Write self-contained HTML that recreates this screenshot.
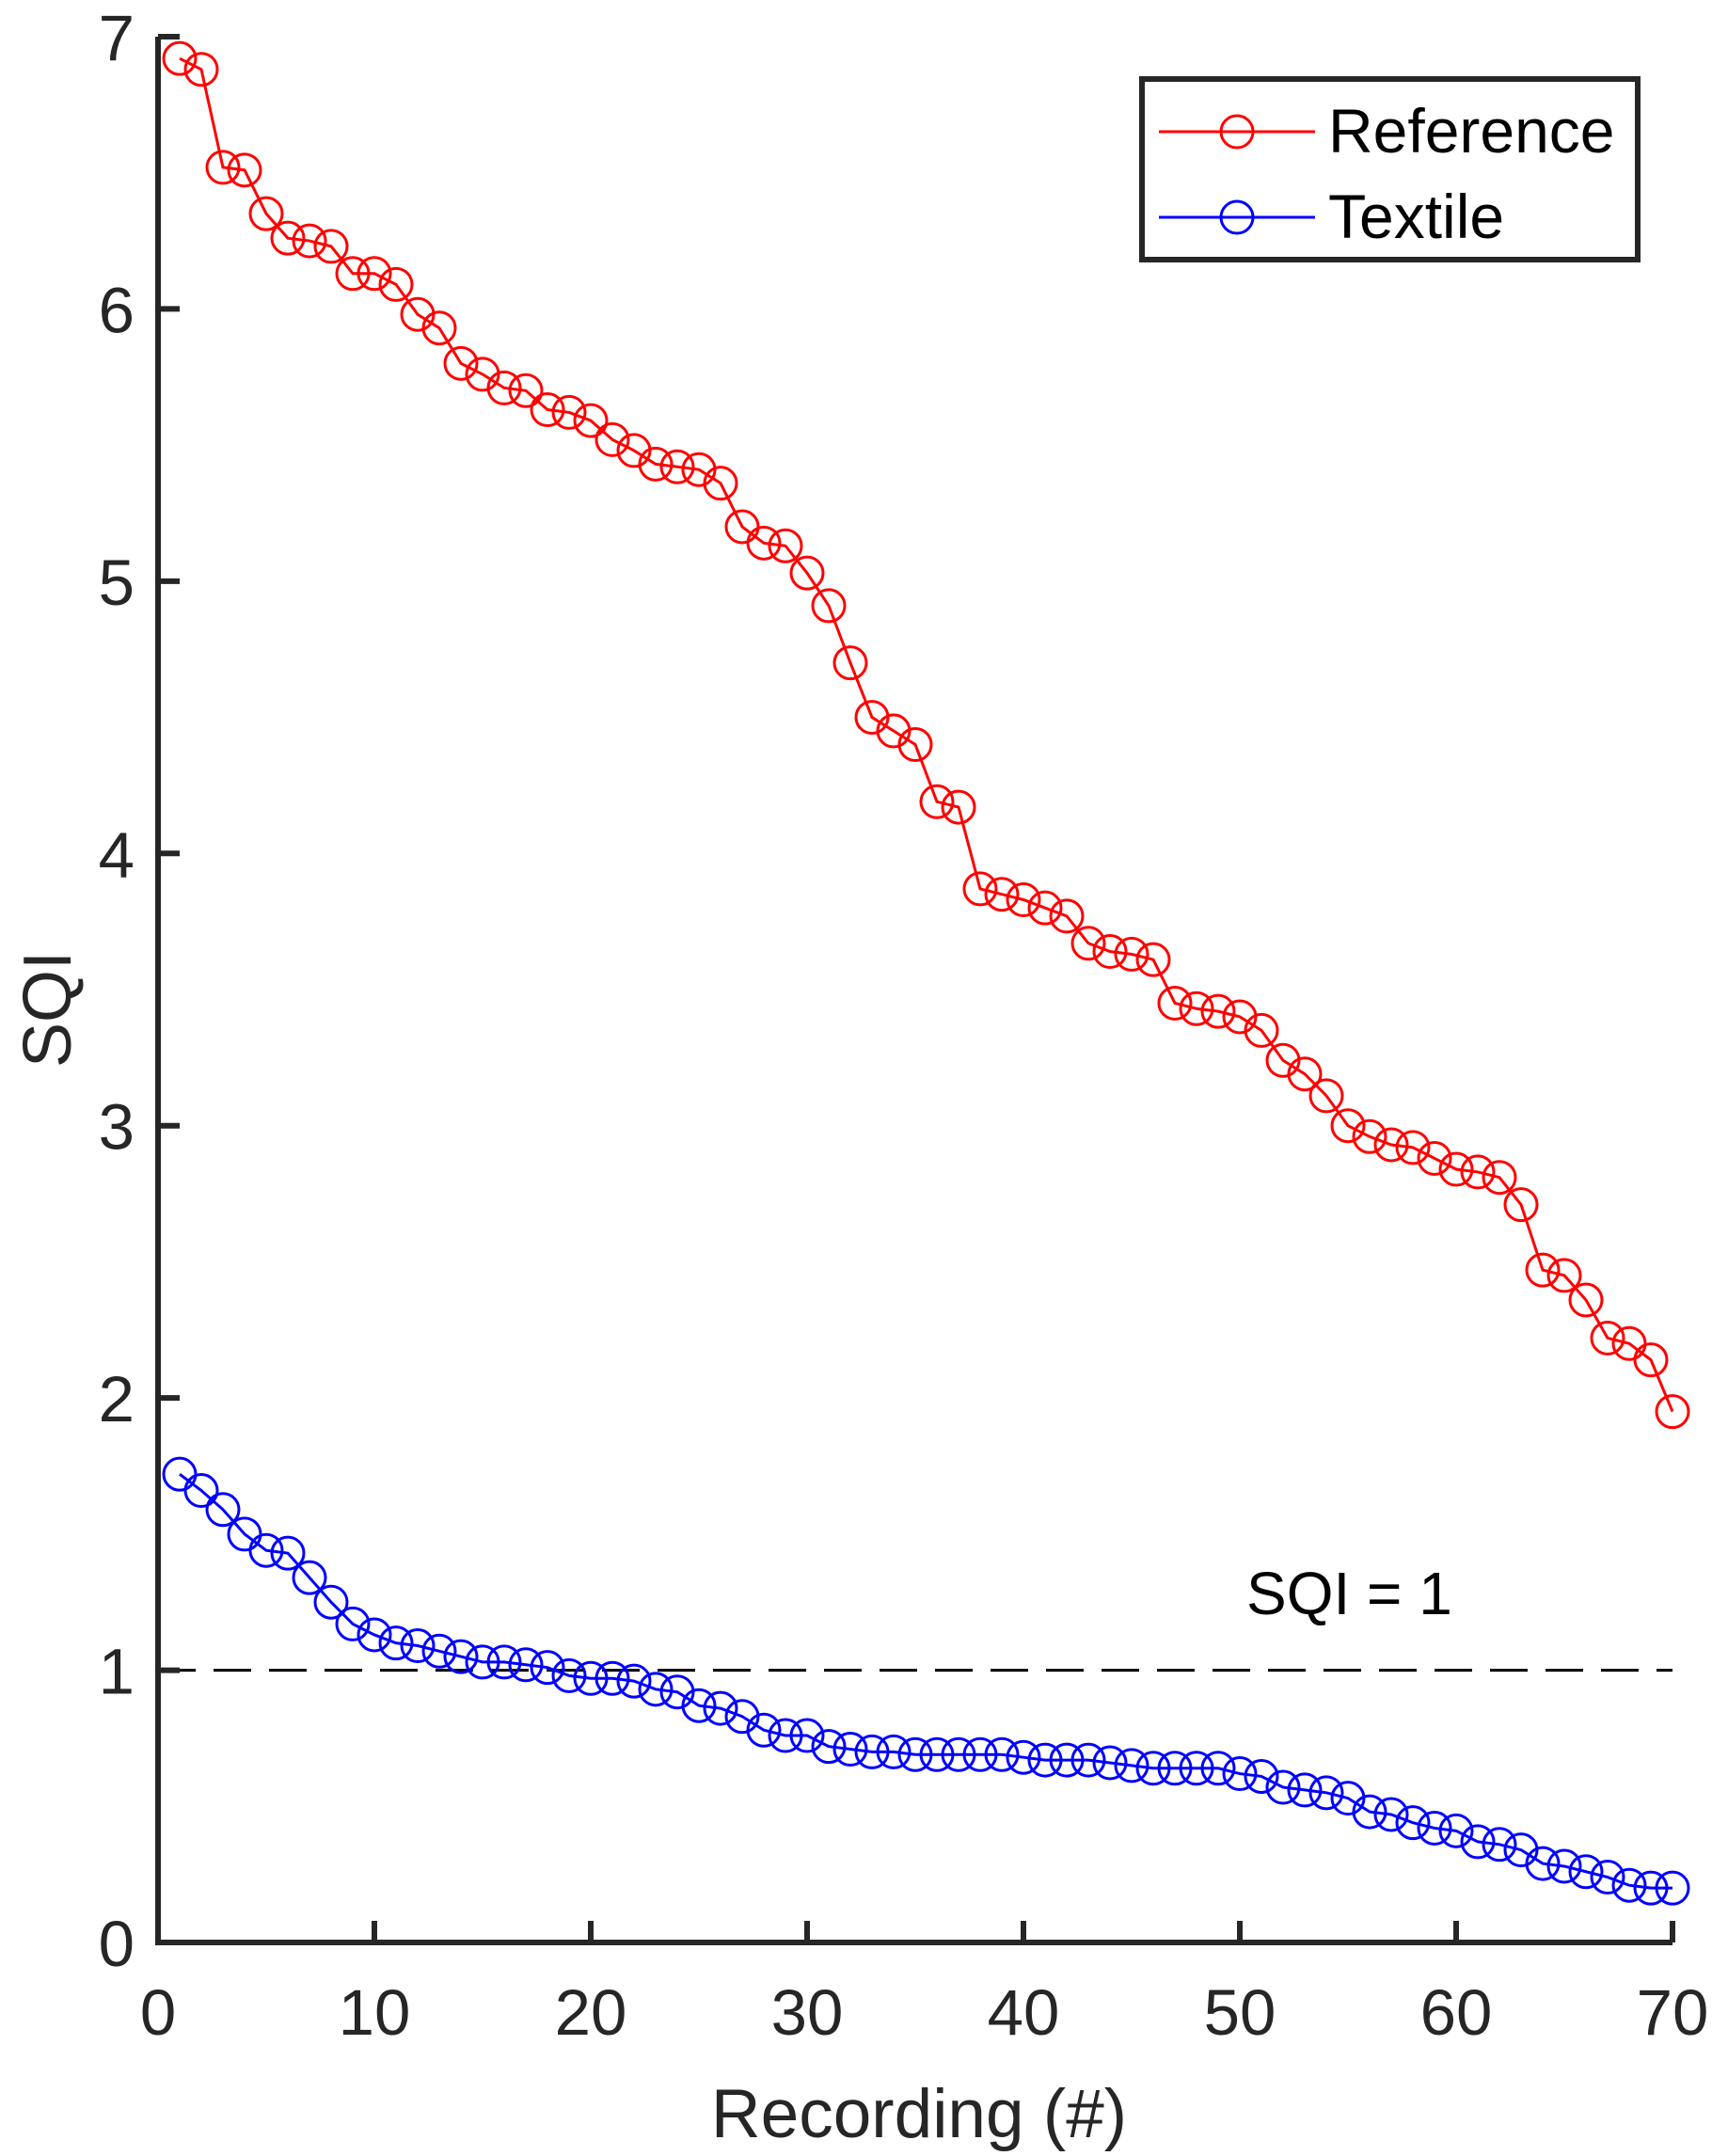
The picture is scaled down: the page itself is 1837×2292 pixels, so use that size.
<!DOCTYPE html>
<html><head><meta charset="utf-8"><style>
html,body{margin:0;padding:0;background:#fff}
svg{display:block;font-family:"Liberation Sans",Arial,sans-serif}
</style></head><body>
<svg id="chart" width="1837" height="2292" viewBox="0 0 1837 2292">
<g id="plot"></g>
<g id="axes"></g>
<text x="56" y="1073" font-size="72" fill="#262626" text-anchor="middle" transform="rotate(-90 56 1073)" dominant-baseline="middle">SQI</text>
<text x="977" y="2272" font-size="73" fill="#262626" text-anchor="middle">Recording (#)</text>
<text x="1325" y="1716" font-size="64" fill="#000">SQI = 1</text>
<g>
<rect x="1214" y="84" width="527" height="192" fill="#fff" stroke="#262626" stroke-width="6"/>
<g>
<line x1="1232" y1="140" x2="1398" y2="140" stroke="#f00" stroke-width="3"/>
<circle cx="1315" cy="140" r="17" fill="none" stroke="#f00" stroke-width="3"/>
<text x="1412" y="162" font-size="66" fill="#000">Reference</text>
</g>
<g>
<line x1="1232" y1="231" x2="1398" y2="231" stroke="#00f" stroke-width="3"/>
<circle cx="1315" cy="231" r="17" fill="none" stroke="#00f" stroke-width="3"/>
<text x="1412" y="253" font-size="66" fill="#000">Textile</text>
</g>
</g>
</svg>
<script>
const referenceValues=[6.92,6.88,6.52,6.51,6.35,6.26,6.25,6.23,6.13,6.13,6.09,5.98,5.93,5.80,5.76,5.71,5.70,5.63,5.62,5.59,5.52,5.48,5.43,5.42,5.41,5.36,5.20,5.14,5.13,5.03,4.91,4.70,4.50,4.45,4.40,4.19,4.17,3.87,3.85,3.83,3.80,3.77,3.67,3.64,3.63,3.61,3.45,3.43,3.42,3.40,3.35,3.24,3.19,3.11,3.00,2.96,2.93,2.92,2.88,2.84,2.83,2.81,2.71,2.47,2.45,2.36,2.22,2.20,2.14,1.95];
const textileValues=[1.72,1.66,1.59,1.50,1.44,1.43,1.34,1.25,1.17,1.13,1.10,1.09,1.07,1.05,1.03,1.03,1.02,1.01,0.98,0.97,0.97,0.96,0.93,0.92,0.87,0.86,0.83,0.78,0.76,0.76,0.72,0.71,0.70,0.70,0.69,0.69,0.69,0.69,0.69,0.68,0.67,0.67,0.67,0.66,0.65,0.64,0.64,0.64,0.64,0.62,0.61,0.57,0.56,0.55,0.53,0.48,0.47,0.44,0.42,0.41,0.37,0.36,0.34,0.29,0.28,0.26,0.24,0.21,0.20,0.20];
const xTicks=[0,10,20,30,40,50,60,70];
const yTicks=[0,1,2,3,4,5,6,7];
const threshold=1;
const NS="http://www.w3.org/2000/svg";
const X0=168,X1=1778,Y0=2065,Y1=39;
function xs(v){return X0+(v-0)/(70-0)*(X1-X0);}
function ys(v){return Y0-(v-0)/(7-0)*(Y0-Y1);}
function mk(tag,attrs,parent){const e=document.createElementNS(NS,tag);for(const k in attrs)e.setAttribute(k,attrs[k]);parent.appendChild(e);return e;}
const plot=document.getElementById('plot'),axes=document.getElementById('axes');
const dl=mk('line',{x1:xs(0),x2:xs(70),y1:ys(threshold),y2:ys(threshold),stroke:'#000','stroke-width':3,'stroke-dasharray':'40 19'},plot);


function series(vals,color,name){
  const g=mk('g',{},plot);
  
  
  const pts=vals.map((v,i)=>xs(i+1)+','+ys(v)).join(' ');
  const pl=mk('polyline',{points:pts,fill:'none',stroke:color,'stroke-width':3},g);
  
  
  vals.forEach((v,i)=>{
    const c=mk('circle',{cx:xs(i+1),cy:ys(v),r:17,fill:'none',stroke:color,'stroke-width':3},g);
    
    
  });
}
series(referenceValues,'#f00','reference');
series(textileValues,'#00f','textile');
const ax=mk('path',{d:`M${X0} ${Y1} V${Y0} H${X1}`,fill:'none',stroke:'#262626','stroke-width':6},axes);


yTicks.forEach(t=>{
  const l=mk('line',{x1:X0,x2:X0+23,y1:ys(t),y2:ys(t),stroke:'#262626','stroke-width':6},axes);
  
  
  const tx=mk('text',{x:143,y:ys(t)+25,'font-size':69,fill:'#262626','text-anchor':'end'},axes);
  tx.textContent=t;
  
  
});
xTicks.forEach(t=>{
  const l=mk('line',{x1:xs(t),x2:xs(t),y1:Y0,y2:Y0-23,stroke:'#262626','stroke-width':6},axes);
  
  
  const tx=mk('text',{x:xs(t),y:2163,'font-size':69,fill:'#262626','text-anchor':'middle'},axes);
  tx.textContent=t;
  
  
});
</script>
</body></html>
